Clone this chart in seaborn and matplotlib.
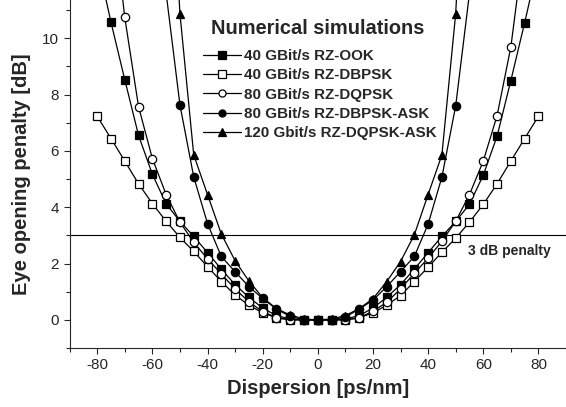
import matplotlib
matplotlib.use("Agg")
import matplotlib.pyplot as plt
import seaborn as sns
from matplotlib.ticker import MultipleLocator

# Dispersion grids [ps/nm]
disp_ook = [-80, -75, -70, -65, -60, -55, -50, -45, -40, -35, -30, -25, -20, -15, -10, -5,
            0, 5, 10, 15, 20, 25, 30, 35, 40, 45, 50, 55, 60, 65, 70, 75, 80]
disp_dbpsk = [-80, -75, -70, -65, -60, -55, -50, -45, -40, -35, -30, -25, -20, -15, -10, -5,
              0, 5, 10, 15, 20, 25, 30, 35, 40, 45, 50, 55, 60, 65, 70, 75, 80]
disp_dqpsk = [-75, -70, -65, -60, -55, -50, -45, -40, -35, -30, -25, -20, -15, -10, -5,
              0, 5, 10, 15, 20, 25, 30, 35, 40, 45, 50, 55, 60, 65, 70, 75]
disp_ask = [-55, -50, -45, -40, -35, -30, -25, -20, -15, -10, -5,
            0, 5, 10, 15, 20, 25, 30, 35, 40, 45, 50, 55]

# Eye opening penalty [dB]
epp_ook = [12.8, 10.57, 8.53, 6.55, 5.17, 4.12, 3.5, 2.96, 2.39, 1.8, 1.25, 0.8, 0.42, 0.15, 0.03, 0.0,
           0.0, 0.0, 0.03, 0.15, 0.42, 0.8, 1.25, 1.8, 2.39, 2.96, 3.5, 4.1, 5.14, 6.52, 8.5, 10.55, 12.7]
epp_dbpsk = [7.23, 6.44, 5.64, 4.83, 4.13, 3.5, 2.93, 2.43, 1.89, 1.36, 0.88, 0.52, 0.25, 0.07, 0.0, 0.0,
             0.0, 0.0, 0.0, 0.07, 0.25, 0.52, 0.86, 1.36, 1.87, 2.4, 2.9, 3.47, 4.1, 4.83, 5.64, 6.44, 7.23]
epp_dqpsk = [15.0, 10.74, 7.57, 5.73, 4.45, 3.47, 2.75, 2.17, 1.63, 1.1, 0.64, 0.29, 0.08, 0.0, 0.0,
             0.0, 0.0, 0.0, 0.07, 0.31, 0.62, 1.1, 1.65, 2.19, 2.79, 3.5, 4.45, 5.64, 7.25, 9.69, 13.5]
epp_dbpsk_ask = [11.6, 7.64, 5.08, 3.42, 2.25, 1.71, 1.18, 0.76, 0.38, 0.12, 0.0,
                 0.0, 0.0, 0.1, 0.38, 0.7, 1.18, 1.71, 2.25, 3.4, 5.07, 7.6, 11.6]
epp_dqpsk_ask = [20.0, 10.88, 5.86, 4.45, 3.05, 2.1, 1.38, 0.79, 0.4, 0.17, 0.03,
                 0.0, 0.03, 0.15, 0.4, 0.75, 1.36, 2.07, 3.02, 4.45, 5.86, 10.88, 20.0]

labels = ["40 GBit/s RZ-OOK", "40 GBit/s RZ-DBPSK", "80 GBit/s RZ-DQPSK",
          "80 GBit/s RZ-DBPSK-ASK", "120 Gbit/s RZ-DQPSK-ASK"]

sns.set_style("ticks")
plt.rcParams["font.family"] = ["Liberation Sans", "DejaVu Sans"]
plt.rcParams["axes.unicode_minus"] = False

fig = plt.figure(figsize=(5.66, 4.07), dpi=100)
ax = fig.add_axes([0.123, 0.145, 0.877, 0.855])

series = [
    (disp_ook, epp_ook, "s", "black"),
    (disp_dbpsk, epp_dbpsk, "s", "white"),
    (disp_dqpsk, epp_dqpsk, "o", "white"),
    (disp_ask, epp_dbpsk_ask, "o", "black"),
    (disp_ask, epp_dqpsk_ask, "^", "black"),
]
for (xs, ys, mk, fc), lab in zip(series, labels):
    sns.lineplot(x=xs, y=ys, ax=ax, color="black", linewidth=0.9, marker=mk,
                 markersize=6, markerfacecolor=fc, markeredgecolor="black",
                 markeredgewidth=0.9, label=lab)

# 3 dB penalty reference line
ax.axhline(3, color="black", linewidth=0.8, zorder=1)
ax.text(54.5, 2.3, "3 dB penalty", fontsize=10, fontweight="bold")

ax.set_xlim(-90, 90)
ax.set_ylim(-1, 11.36)
ax.xaxis.set_minor_locator(MultipleLocator(10))
ax.yaxis.set_minor_locator(MultipleLocator(1))
ax.set_yticks([0, 2, 4, 6, 8, 10])
ax.set_xticks([-80, -60, -40, -20, 0, 20, 40, 60, 80])
ax.tick_params(which="major", length=4, width=0.8, labelsize=11, direction="out")
ax.tick_params(which="minor", length=3, width=0.8, direction="out")
sns.despine(ax=ax, top=True, right=True)

ax.set_xlabel("Dispersion [ps/nm]", fontsize=14.5, fontweight="bold", labelpad=5)
ax.set_ylabel("Eye opening penalty [dB]", fontsize=14.5, fontweight="bold", labelpad=8)

fig.text(211 / 566, 1 - 28 / 407, "Numerical simulations", fontsize=14.4,
         fontweight="bold", ha="left", va="center")
leg = ax.legend(frameon=False, loc="upper left",
                bbox_to_anchor=(203 / 566, 1 - 49 / 407), bbox_transform=fig.transFigure,
                prop={"weight": "bold", "size": 10.9}, markerscale=0.85,
                handlelength=2.5, handletextpad=0.2, labelspacing=0.35,
                borderpad=0, borderaxespad=0)

fig.savefig("out.png", dpi=100)
